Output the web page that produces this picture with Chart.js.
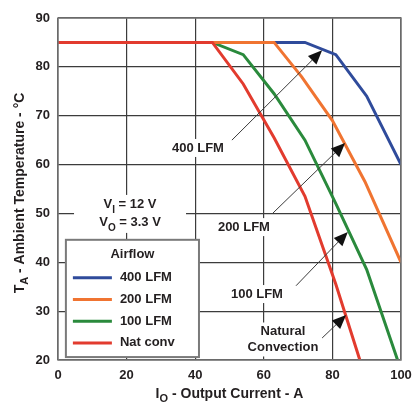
<!DOCTYPE html>
<html><head><meta charset="utf-8">
<script src="https://cdn.jsdelivr.net/npm/chart.js@4.4.1/dist/chart.umd.min.js"></script>
<style>html,body{margin:0;padding:0;background:#fff}#wrap{width:420px;height:412px}canvas{display:block}</style>
</head><body>
<div id="wrap"><canvas id="c" width="420" height="412"></canvas></div>
<script>
// ---- data ----
const seriesNames = ['400 LFM', '200 LFM', '100 LFM', 'Nat conv'];
const seriesColors = ['#2f4b9b', '#f07431', '#2a8a3c', '#e23b2e'];
const x400 = [0, 72, 81, 90, 100];
const y400 = [85, 85, 82.5, 74, 60];
const x200 = [0, 63, 71, 80, 89.5, 100];
const y200 = [85, 85, 78, 69, 56.5, 40];
const x100 = [0, 45, 54, 63, 72, 81, 90, 99];
const y100 = [85, 85, 82.5, 74.5, 65, 52, 38.5, 20];
const xNat = [0, 45, 54, 63, 72, 81, 88];
const yNat = [85, 85, 76.5, 65.5, 53.5, 35.5, 20];
const xTicks = [0, 20, 40, 60, 80, 100];
const yTicks = [20, 30, 40, 50, 60, 70, 80, 90];
const xTitle = [['I', false], ['O', true], [' - Output Current - A', false]];
const yTitle = [['T', false], ['A', true], [' - Ambient Temperature - °C', false]];
const legendTitle = 'Airflow';
const condLines = [[['V', false], ['I', true], [' = 12 V', false]], [['V', false], ['O', true], [' = 3.3 V', false]]];
// annotations: label text, label centre (data units), arrow start and tip (data units)
const annLabels = [['400 LFM'], ['200 LFM'], ['100 LFM'], ['Natural', 'Convection']];
const annLabelX = [40.8, 54.2, 58.0, 65.6];
const annLabelY = [63.4, 47.2, 33.5, 24.2];
const arrowFrom = [[50.7, 65.0], [62.7, 50.1], [69.4, 35.2], [77.0, 24.5]];
const arrowTo = [[77.0, 83.4], [83.7, 64.4], [84.5, 46.2], [84.0, 29.2]];
const condCenter = [21, 49.9];
const legendBox = [2.3, 44.6, 41.1, 20.6];

const FONT = "'Liberation Sans', Arial, Helvetica, sans-serif";
const TXT = '#231f20';

function pts(xs, ys) { return xs.map((x, i) => ({ x: x, y: ys[i] })); }
const xsAll = [x400, x200, x100, xNat];
const ysAll = [y400, y200, y100, yNat];
const drawOrder = [3, 1, 2, 0];

function richWidth(ctx, parts, size, sub) {
  let w = 0;
  parts.forEach(p => { ctx.font = 'bold ' + (p[1] ? sub : size) + 'px ' + FONT; w += ctx.measureText(p[0]).width; });
  return w;
}
function drawRich(ctx, parts, cx, cy, size, sub) {
  const w = richWidth(ctx, parts, size, sub);
  let x = cx - w / 2;
  ctx.textBaseline = 'middle'; ctx.textAlign = 'left'; ctx.fillStyle = TXT;
  parts.forEach(p => {
    ctx.font = 'bold ' + (p[1] ? sub : size) + 'px ' + FONT;
    ctx.fillText(p[0], x, p[1] ? cy + 5 : cy);
    x += ctx.measureText(p[0]).width;
  });
  return w;
}

const decor = {
  id: 'decor',
  beforeDatasetsDraw(chart) {
    const ctx = chart.ctx, xs = chart.scales.x, ys = chart.scales.y;
    ctx.save();
    // annotation labels with white backing
    annLabels.forEach((lines, i) => {
      const cx = xs.getPixelForValue(annLabelX[i]);
      const cy = ys.getPixelForValue(annLabelY[i]);
      ctx.font = 'bold 13px ' + FONT;
      const lh = 16;
      const top = cy - (lines.length - 1) * lh / 2;
      let mw = 0; lines.forEach(l => mw = Math.max(mw, ctx.measureText(l).width));
      ctx.fillStyle = '#fff';
      ctx.fillRect(cx - mw / 2 - 3, top - 9, mw + 6, (lines.length - 1) * lh + 18);
      ctx.fillStyle = TXT; ctx.textAlign = 'center'; ctx.textBaseline = 'middle';
      lines.forEach((l, k) => ctx.fillText(l, cx, top + k * lh));
    });
    // conditions text
    const ccx = xs.getPixelForValue(condCenter[0]);
    const ccy = ys.getPixelForValue(condCenter[1]);
    ctx.fillStyle = '#fff';
    ctx.fillRect(ccx - 56, ccy - 19, 112, 38);
    drawRich(ctx, condLines[0], ccx, ccy - 9, 13, 10);
    drawRich(ctx, condLines[1], ccx, ccy + 9, 13, 10);
    // legend box
    const lx0 = xs.getPixelForValue(legendBox[0]), ly0 = ys.getPixelForValue(legendBox[1]);
    const lx1 = xs.getPixelForValue(legendBox[2]), ly1 = ys.getPixelForValue(legendBox[3]);
    ctx.fillStyle = '#fff';
    ctx.fillRect(lx0, ly0, lx1 - lx0, ly1 - ly0);
    ctx.strokeStyle = '#7a7a7a'; ctx.lineWidth = 2;
    ctx.strokeRect(lx0, ly0, lx1 - lx0, ly1 - ly0);
    ctx.fillStyle = TXT; ctx.font = 'bold 13px ' + FONT; ctx.textAlign = 'center'; ctx.textBaseline = 'middle';
    ctx.fillText(legendTitle, (lx0 + lx1) / 2, ly0 + 15);
    seriesNames.forEach((n, i) => {
      const yy = ly0 + 38 + i * 21.7;
      ctx.strokeStyle = seriesColors[i]; ctx.lineWidth = 3;
      ctx.beginPath(); ctx.moveTo(lx0 + 7, yy); ctx.lineTo(lx0 + 46, yy); ctx.stroke();
      ctx.fillStyle = TXT; ctx.textAlign = 'left';
      ctx.fillText(n, lx0 + 54, yy);
    });
    ctx.restore();
  },
  afterDatasetsDraw(chart) {
    const ctx = chart.ctx, xs = chart.scales.x, ys = chart.scales.y;
    ctx.save();
    arrowFrom.forEach((f, i) => {
      const x0 = xs.getPixelForValue(f[0]), y0 = ys.getPixelForValue(f[1]);
      const x1 = xs.getPixelForValue(arrowTo[i][0]), y1 = ys.getPixelForValue(arrowTo[i][1]);
      const ang = Math.atan2(y1 - y0, x1 - x0);
      const L = 14, W = 6;
      const bx = x1 - L * Math.cos(ang), by = y1 - L * Math.sin(ang);
      ctx.strokeStyle = '#3a3a3a'; ctx.lineWidth = 1;
      ctx.beginPath(); ctx.moveTo(x0, y0); ctx.lineTo(bx, by); ctx.stroke();
      ctx.fillStyle = '#111';
      ctx.beginPath();
      ctx.moveTo(x1, y1);
      ctx.lineTo(bx + W * Math.sin(ang), by - W * Math.cos(ang));
      ctx.lineTo(bx - W * Math.sin(ang), by + W * Math.cos(ang));
      ctx.closePath(); ctx.fill();
    });
    ctx.restore();
  },
  afterDraw(chart) {
    const ctx = chart.ctx, a = chart.chartArea;
    ctx.save();
    ctx.strokeStyle = '#7a7a7a'; ctx.lineWidth = 1.5;
    ctx.strokeRect(a.left, a.top, a.right - a.left, a.bottom - a.top);
    // axis titles
    drawRich(ctx, xTitle, (a.left + a.right) / 2, 394, 14, 11);
    ctx.translate(20, (a.top + a.bottom) / 2 + 4);
    ctx.rotate(-Math.PI / 2);
    drawRich(ctx, yTitle, 0, 0, 14, 11);
    ctx.restore();
  }
};

const datasets = seriesNames.map((n, i) => ({
  label: n,
  data: pts(xsAll[i], ysAll[i]),
  borderColor: seriesColors[i],
  backgroundColor: seriesColors[i],
  borderWidth: 3,
  pointRadius: 0,
  tension: 0,
  fill: false,
  order: drawOrder[i]
}));

new Chart(document.getElementById('c'), {
  type: 'line',
  data: { datasets: datasets },
  options: {
    responsive: false,
    animation: false,
    devicePixelRatio: 1,
    layout: { padding: { top: 18, right: 19, left: 0, bottom: 0 } },
    plugins: { legend: { display: false }, tooltip: { enabled: false } },
    scales: {
      x: {
        type: 'linear', min: 0, max: 100,
        afterBuildTicks: s => { s.ticks = xTicks.map(v => ({ value: v })); },
        afterFit: s => { s.height = 52; },
        grid: { color: '#3c3c3c', lineWidth: 1.2, drawTicks: false },
        border: { display: false },
        ticks: { padding: 8, color: TXT, font: { family: FONT, size: 13, weight: 'bold' } }
      },
      y: {
        type: 'linear', min: 20, max: 90,
        afterBuildTicks: s => { s.ticks = yTicks.map(v => ({ value: v })); },
        afterFit: s => { s.width = 58; },
        grid: { color: '#3c3c3c', lineWidth: 1.2, drawTicks: false },
        border: { display: false },
        ticks: { padding: 8, color: TXT, font: { family: FONT, size: 13, weight: 'bold' } }
      }
    }
  },
  plugins: [decor]
});
</script>
</body></html>
